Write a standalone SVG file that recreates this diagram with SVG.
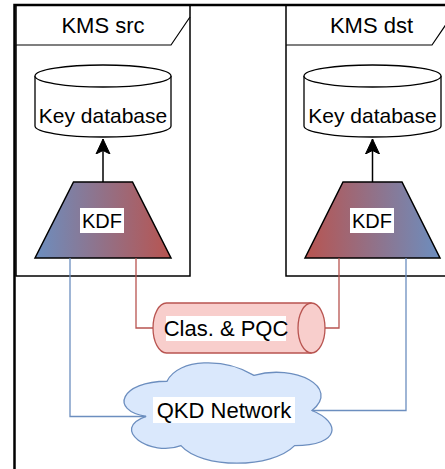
<svg xmlns="http://www.w3.org/2000/svg" width="445" height="469" viewBox="0 0 445 469">
  <defs>
    <style>
      .frame { fill: none; stroke: #000; }
      .box { fill: #fff; stroke: #000; stroke-width: 1.5; }
      .hdr { fill: #fff; stroke: #000; stroke-width: 1.2; }
      .db { fill: #fff; stroke: #000; stroke-width: 1.3; }
      .kdf { stroke: #000; stroke-width: 1.5; }
      .lbl { font-family: "Liberation Sans", Arial, sans-serif; fill: #000; text-anchor: middle; dominant-baseline: central; }
      .bg { fill: #fff; }
      .link-q { fill: none; stroke: #6c8ebf; stroke-width: 1.3; }
      .link-c { fill: none; stroke: #b85450; stroke-width: 1.3; }
    </style>
    <linearGradient id="gradBR" x1="0" y1="0" x2="1" y2="0">
      <stop offset="0" stop-color="#6c8ebf"/>
      <stop offset="1" stop-color="#b85450"/>
    </linearGradient>
    <linearGradient id="gradRB" x1="0" y1="0" x2="1" y2="0">
      <stop offset="0" stop-color="#b85450"/>
      <stop offset="1" stop-color="#6c8ebf"/>
    </linearGradient>
    <marker id="arrow" viewBox="0 0 16 17" refX="15" refY="8.5" markerWidth="16" markerHeight="17" markerUnits="userSpaceOnUse" orient="auto">
      <path d="M15,8.5 L0,1.5 L3.5,8.5 L0,15.5 Z" fill="#000" stroke="#000" stroke-width="1"/>
    </marker>
  </defs>

  <!-- outer container -->
  <g id="container">
    <rect class="frame" x="14.5" y="5" width="520" height="520" stroke-width="2.5"/>
  </g>

  <!-- KMS src -->
  <g id="kms-src">
    <rect class="box" x="16" y="5.5" width="174" height="270.5"/>
    <path class="hdr" d="M16,45 L171,45 L190,17"/>
    <text class="lbl" x="103" y="25" font-size="22">KMS src</text>
  </g>
  <g id="db-src">
    <path class="db" d="M35,76 A68,11 0 0 1 171,76 L171,126 A68,11 0 0 1 35,126 Z"/>
    <path class="db" d="M35,76 A68,11 0 0 0 171,76" fill="none"/>
    <text class="lbl" x="103" y="115" font-size="21">Key database</text>
  </g>
  <g id="kdf-src">
    <path class="kdf" d="M35,258 L73.5,182 L132.5,182 L171,258 Z" fill="url(#gradBR)"/>
    <rect class="bg" x="80" y="208" width="44" height="25"/>
    <text class="lbl" x="102" y="220.5" font-size="20">KDF</text>
  </g>

  <!-- KMS dst -->
  <g id="kms-dst">
    <rect class="box" x="286" y="5.5" width="180" height="270.5"/>
    <path class="hdr" d="M286,45 L432,45 L451,17"/>
    <text class="lbl" x="371.5" y="25" font-size="22">KMS dst</text>
  </g>
  <g id="db-dst">
    <path class="db" d="M304,76 A68.5,11 0 0 1 441,76 L441,126 A68.5,11 0 0 1 304,126 Z"/>
    <path class="db" d="M304,76 A68.5,11 0 0 0 441,76" fill="none"/>
    <text class="lbl" x="372.5" y="115" font-size="21">Key database</text>
  </g>
  <g id="kdf-dst">
    <path class="kdf" d="M305,258 L343,182 L402,182 L440,258 Z" fill="url(#gradRB)"/>
    <rect class="bg" x="350" y="208" width="44" height="25"/>
    <text class="lbl" x="372" y="220.5" font-size="20">KDF</text>
  </g>

  <!-- classical / post-quantum channel -->
  <g id="clas-pqc">
    <path d="M166.5,303 L311.5,303 A13.5,25 0 0 1 311.5,353 L166.5,353 A13.5,25 0 0 1 166.5,303 Z" fill="#f8cecc" stroke="#b85450" stroke-width="1.3"/>
    <path d="M311.5,303 A13.5,25 0 0 0 311.5,353" fill="none" stroke="#b85450" stroke-width="1.3"/>
    <rect class="bg" x="166" y="316" width="120" height="25"/>
    <text class="lbl" x="226" y="328.5" font-size="22">Clas. &amp; PQC</text>
  </g>

  <!-- QKD network cloud -->
  <g id="qkd-network">
    <path d="M167,381.25 C120.6,381.25 109,410.5 146.12,416.35 C109,429.22 150.76,457.3 180.92,445.6 C201.8,469 271.4,469 294.6,445.6 C341,445.6 341,422.2 312,410.5 C341,387.1 294.6,363.7 254,375.4 C225,357.85 178.6,357.85 167,381.25 Z" fill="#dae8fc" stroke="#6c8ebf" stroke-width="1.3"/>
    <rect class="bg" x="153" y="397" width="142" height="26"/>
    <text class="lbl" x="224" y="410" font-size="22">QKD Network</text>
  </g>

  <!-- connectors -->
  <g id="connectors">
    <line x1="103" y1="182" x2="103" y2="139" stroke="#000" stroke-width="1.5" marker-end="url(#arrow)"/>
    <line x1="372.5" y1="182" x2="372.5" y2="139" stroke="#000" stroke-width="1.5" marker-end="url(#arrow)"/>
    <polyline class="link-q" points="70,258 70,416.5 146,416.5"/>
    <polyline class="link-c" points="136,258 136,328 153,328"/>
    <polyline class="link-c" points="339,258 339,328 325,328"/>
    <polyline class="link-q" points="406,258 406,410.5 312,410.5"/>
  </g>
</svg>
